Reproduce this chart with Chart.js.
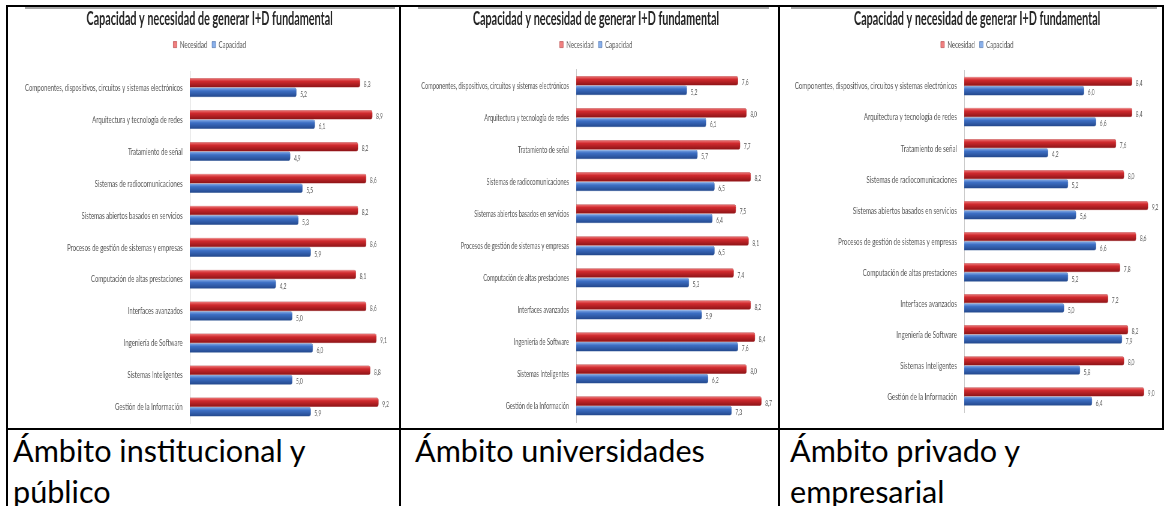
<!DOCTYPE html>
<html>
<head>
<meta charset="utf-8">
<script src="https://cdn.jsdelivr.net/npm/chart.js@4.4.1/dist/chart.umd.min.js"></script>
<style>
body { margin: 0; background: #fff; width: 1165px; height: 506px; overflow: hidden; position: relative; font-family: Lato, sans-serif; }
.ln { position: absolute; background: #000; }
.gr { position: absolute; background: #a6a6a6; height: 2px; top: 7px; }
.cell { position: absolute; top: 7px; height: 421px; overflow: hidden; }
.cell canvas { position: absolute; left: 0; top: 0; transform-origin: 0 0; transform: scaleX(0.6); }
.cap { position: absolute; top: 430px; font-size: 30.6px; line-height: 41px; color: #000; white-space: nowrap; }
</style>
</head>
<body>

<div class="cell" style="left:8px;width:391px"><canvas id="g1" width="652" height="421"></canvas></div>
<div class="cell" style="left:401px;width:377px"><canvas id="g2" width="628" height="421"></canvas></div>
<div class="cell" style="left:780px;width:382px"><canvas id="g3" width="637" height="421"></canvas></div>

<div class="gr" style="left:25px;width:370px"></div>
<div class="gr" style="left:418px;width:351px"></div>
<div class="gr" style="left:791px;width:366px"></div>

<div class="ln" style="left:6px;top:5px;width:1158px;height:2px"></div>
<div class="ln" style="left:6px;top:428px;width:1158px;height:2px"></div>
<div class="ln" style="left:6px;top:5px;width:2px;height:501px"></div>
<div class="ln" style="left:399px;top:5px;width:2px;height:501px"></div>
<div class="ln" style="left:778px;top:5px;width:2px;height:501px"></div>
<div class="ln" style="left:1162px;top:5px;width:2px;height:424px"></div>

<div class="cap" style="left:13px">Ámbito institucional y<br>público</div>
<div class="cap" style="left:415px">Ámbito universidades</div>
<div class="cap" style="left:790px">Ámbito privado y<br>empresarial</div>

<script>
const categorias = [
    'Componentes, dispositivos, circuitos y sistemas electrónicos',
    'Arquitectura y tecnología de redes',
    'Tratamiento de señal',
    'Sistemas de radiocomunicaciones',
    'Sistemas abiertos basados en servicios',
    'Procesos de gestión de sistemas y empresas',
    'Computación de altas prestaciones',
    'Interfaces avanzados',
    'Ingeniería de Software',
    'Sistemas Inteligentes',
    'Gestión de la Información'
];

const necesidadInstitucional = [8.3, 8.9, 8.2, 8.6, 8.2, 8.6, 8.1, 8.6, 9.1, 8.8, 9.2];
const capacidadInstitucional = [5.2, 6.1, 4.9, 5.5, 5.3, 5.9, 4.2, 5.0, 6.0, 5.0, 5.9];

const necesidadUniversidades = [7.6, 8.0, 7.7, 8.2, 7.5, 8.1, 7.4, 8.2, 8.4, 8.0, 8.7];
const capacidadUniversidades = [5.2, 6.1, 5.7, 6.5, 6.4, 6.5, 5.3, 5.9, 7.6, 6.2, 7.3];

const necesidadPrivado = [8.4, 8.4, 7.6, 8.0, 9.2, 8.6, 7.8, 7.2, 8.2, 8.0, 9.0];
const capacidadPrivado = [6.0, 6.6, 4.2, 5.2, 5.6, 6.6, 5.2, 5.0, 7.9, 5.8, 6.4];

const titulo = 'Capacidad y necesidad de generar I+D fundamental';
const CAT_PCT = 0.6;

// shaded fill so the bars look like the 3D cylinders of the original
function relleno(claro, medio, oscuro) {
    return function (c) {
        const y = c.chart.scales && c.chart.scales.y;
        if (c.type !== 'data' || !y || !Number.isFinite(y.top) || !Number.isFinite(y.bottom)) return medio;
        const paso = (y.bottom - y.top) / categorias.length;
        const alto = paso * CAT_PCT / 2;
        const centro = y.getPixelForValue(c.dataIndex) - alto + alto * (c.datasetIndex + 0.5);
        if (!Number.isFinite(centro) || alto <= 0) return medio;
        const g = c.chart.ctx.createLinearGradient(0, centro - alto / 2, 0, centro + alto / 2);
        g.addColorStop(0, claro);
        g.addColorStop(0.35, medio);
        g.addColorStop(1, oscuro);
        return g;
    };
}

const etiquetasValor = {
    id: 'etiquetasValor',
    afterDatasetsDraw(chart) {
        const ctx = chart.ctx;
        ctx.save();
        ctx.font = '8px Lato';
        ctx.fillStyle = '#595959';
        ctx.textBaseline = 'middle';
        chart.data.datasets.forEach((ds, i) => {
            chart.getDatasetMeta(i).data.forEach((bar, j) => {
                ctx.fillText(ds.data[j].toFixed(1).replace('.', ','), bar.x + 6, bar.y + 2);
            });
        });
        ctx.restore();
    }
};

function crearGrafico(id, necesidad, capacidad, xMax, izq, anchoEje, letra, hueco, abajo) {
    new Chart(document.getElementById(id), {
        type: 'bar',
        data: {
            labels: categorias,
            datasets: [{
                label: 'Necesidad',
                data: necesidad,
                backgroundColor: relleno('#f08080', '#d02a2e', '#8a1316'),
                borderColor: '#9c1a1d',
                borderWidth: 0.5,
                borderRadius: { topRight: 3, bottomRight: 3 },
                borderSkipped: 'left'
            }, {
                label: 'Capacidad',
                data: capacidad,
                backgroundColor: relleno('#8ab0ea', '#3d6fc4', '#22468a'),
                borderColor: '#28508f',
                borderWidth: 0.5,
                borderRadius: { topRight: 3, bottomRight: 3 },
                borderSkipped: 'left'
            }]
        },
        options: {
            indexAxis: 'y',
            responsive: false,
            animation: false,
            layout: { padding: { left: izq, right: 0, top: 0, bottom: abajo } },
            datasets: { bar: { categoryPercentage: CAT_PCT, barPercentage: 1 } },
            plugins: {
                title: {
                    display: true,
                    text: titulo,
                    color: '#262626',
                    font: { family: 'Lato', size: 18, weight: 'bold' },
                    padding: { top: 1, bottom: 2 }
                },
                legend: {
                    labels: {
                        boxWidth: 6,
                        boxHeight: 6,
                        padding: 8,
                        color: '#595959',
                        font: { family: 'Lato', size: 10 }
                    }
                },
                tooltip: { enabled: false }
            },
            scales: {
                // invisible top axis, only used as spacing under the legend
                x: {
                    position: 'top',
                    min: 0,
                    max: xMax,
                    grid: { display: false },
                    border: { display: false },
                    ticks: { display: false },
                    afterFit(s) { s.height = hueco; }
                },
                y: {
                    grid: { display: false },
                    border: { color: '#c8c8c8' },
                    ticks: { color: '#595959', font: { family: 'Lato', size: letra }, padding: 4 },
                    afterFit(s) {
                        s.width = anchoEje;
                        s.paddingTop = 0;
                        s.paddingBottom = 0;
                    }
                }
            }
        },
        plugins: [etiquetasValor]
    });
}

crearGrafico('g1', necesidadInstitucional, capacidadInstitucional, 10.2, 20, 283, 10, 12, 5);
crearGrafico('g2', necesidadUniversidades, capacidadUniversidades, 9.46, 22, 270, 9.4, 10, 6);
crearGrafico('g3', necesidadPrivado, capacidadPrivado, 9.9, 20, 287, 10.3, 11, 16);
</script>
</body>
</html>
